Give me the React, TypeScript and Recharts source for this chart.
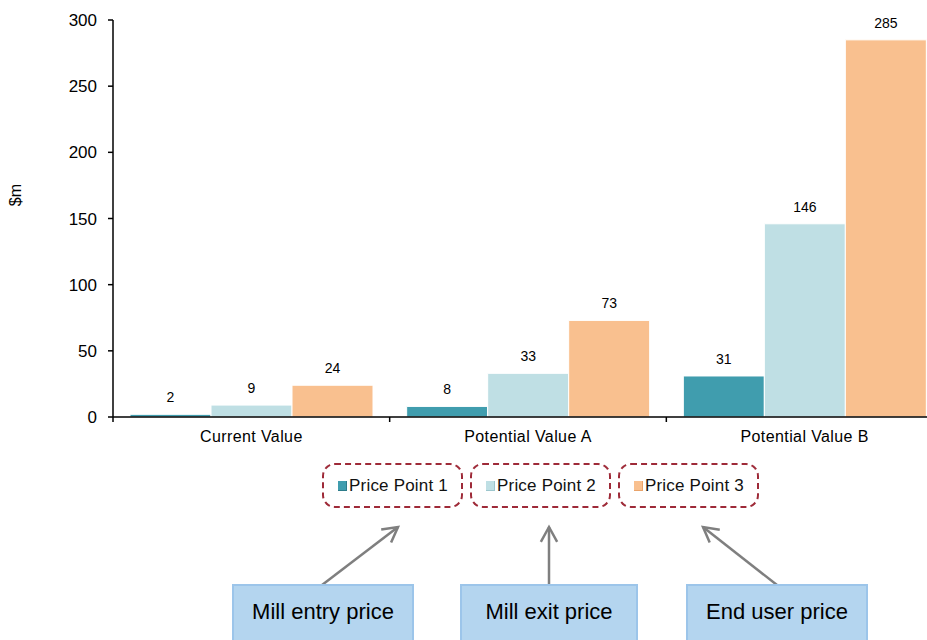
import React from 'react';
import { BarChart, Bar, XAxis, YAxis, Legend, LabelList } from 'recharts';

// value chain categories and the three price points ($m)
const categories = ['Current Value', 'Potential Value A', 'Potential Value B'];
const pricePoint1 = [2, 8, 31];
const pricePoint2 = [9, 33, 146];
const pricePoint3 = [24, 73, 285];
const yTicks = [0, 50, 100, 150, 200, 250, 300];
const seriesNames = ['Price Point 1', 'Price Point 2', 'Price Point 3'];
const calloutLabels = ['Mill entry price', 'Mill exit price', 'End user price'];

const COLORS = ['#409dae', '#bfdfe4', '#f9c08f'];
const ICON_EDGE = ['#2d7c8a', '#9cc6cd', '#e9a36a'];
const FONT = '"Liberation Sans", Arial, sans-serif';

const chartData = categories.map((name, i) => ({
    name,
    p1: pricePoint1[i],
    p2: pricePoint2[i],
    p3: pricePoint3[i],
}));

// category label plus boundary tick marks between the groups
const CategoryTick = (props: any) => {
    const { x, y, payload } = props;
    const band = props.bandSize ?? 276.67;
    const left = x - band / 2;
    return (
        <g>
            <line x1={left} x2={left} y1={y - 8} y2={y - 3} stroke="#000" strokeWidth={1.5} />
            <text x={x} y={y + 17} textAnchor="middle" fontSize={16} letterSpacing={0.4} fill="#000" fontFamily={FONT}>
                {payload.value}
            </text>
        </g>
    );
};

const LegendBoxes = (props: any) => {
    const { payload } = props;
    return (
        <div style={{ display: 'flex', gap: 7, fontFamily: FONT }}>
            {(payload || []).map((entry: any, i: number) => (
                <div
                    key={entry.value}
                    style={{
                        height: 41,
                        boxSizing: 'content-box',
                        border: '2.5px dashed #9e2a38',
                        borderRadius: 13,
                        display: 'flex',
                        alignItems: 'center',
                        padding: '0 13px 0 14px',
                        fontSize: 17,
                        color: '#111',
                    }}
                >
                    <span
                        style={{
                            display: 'inline-block',
                            width: 8,
                            height: 9,
                            background: entry.color,
                            borderRight: `1.5px solid ${ICON_EDGE[i]}`,
                            borderBottom: `1.5px solid ${ICON_EDGE[i]}`,
                            marginRight: 2,
                        }}
                    />
                    <span style={{ letterSpacing: 0.2 }}>{entry.value}</span>
                </div>
            ))}
        </div>
    );
};

// open arrowhead pointing at (x2, y2)
const Arrow = ({ x1, y1, x2, y2 }: { x1: number; y1: number; x2: number; y2: number }) => {
    const ang = Math.atan2(y2 - y1, x2 - x1);
    const len = 17;
    const spread = 0.5;
    const a1 = [x2 - len * Math.cos(ang - spread), y2 - len * Math.sin(ang - spread)];
    const a2 = [x2 - len * Math.cos(ang + spread), y2 - len * Math.sin(ang + spread)];
    return (
        <g stroke="#7f7f7f" strokeWidth={2.5} fill="none">
            <line x1={x1} y1={y1} x2={x2} y2={y2} />
            <polyline points={`${a1[0]},${a1[1]} ${x2},${y2} ${a2[0]},${a2[1]}`} />
        </g>
    );
};

const callouts = [
    { left: 232, width: 182, from: [322, 585], to: [398, 527] },
    { left: 460, width: 178, from: [549, 585], to: [549, 527] },
    { left: 686, width: 182, from: [777, 585], to: [703, 527] },
];

export default function App() {
    return (
        <div style={{ position: 'absolute', left: 0, top: 0, width: 927, height: 640, overflow: 'hidden', background: '#fff', fontFamily: FONT }}>
            <BarChart
                width={945}
                height={640}
                data={chartData}
                margin={{ top: 20, right: 2, left: 0, bottom: 183 }}
                barCategoryGap={17}
                barGap={0}
            >
                <XAxis
                    dataKey="name"
                    height={40}
                    tickLine={false}
                    axisLine={{ stroke: '#000', strokeWidth: 1.5 }}
                    tick={<CategoryTick bandSize={830 / 3} />}
                    interval={0}
                />
                <YAxis
                    width={113}
                    domain={[0, 300]}
                    ticks={yTicks}
                    tickSize={5}
                    tickMargin={11}
                    axisLine={{ stroke: '#000', strokeWidth: 1.5 }}
                    tickLine={{ stroke: '#000', strokeWidth: 1.5 }}
                    tick={{ fontSize: 17, fill: '#000', fontFamily: FONT }}
                    label={{
                        content: () => (
                            <text x={21} y={195} transform="rotate(-90 21 195)" textAnchor="middle" fontSize={16} fill="#000" fontFamily={FONT}>
                                $m
                            </text>
                        ),
                    }}
                />
                <Legend
                    verticalAlign="middle"
                    align="center"
                    layout="horizontal"
                    content={<LegendBoxes />}
                    wrapperStyle={{ top: 463, left: 322, width: 'auto' }}
                />
                {['p1', 'p2', 'p3'].map((key, i) => (
                    <Bar key={key} dataKey={key} name={seriesNames[i]} fill={COLORS[i]} stroke="#fff" strokeWidth={1} isAnimationActive={false}>
                        <LabelList dataKey={key} position="top" offset={12} fontSize={14} fill="#000" fontFamily={FONT} />
                    </Bar>
                ))}
            </BarChart>
            <svg width={927} height={640} style={{ position: 'absolute', left: 0, top: 0, pointerEvents: 'none' }}>
                {callouts.map((c, i) => (
                    <Arrow key={i} x1={c.from[0]} y1={c.from[1]} x2={c.to[0]} y2={c.to[1]} />
                ))}
            </svg>
            {callouts.map((c, i) => (
                <div
                    key={calloutLabels[i]}
                    style={{
                        position: 'absolute',
                        left: c.left,
                        top: 584,
                        width: c.width,
                        height: 70,
                        boxSizing: 'border-box',
                        background: '#b4d5ef',
                        border: '2px solid #9cc5ea',
                        display: 'flex',
                        justifyContent: 'center',
                        paddingTop: 13,
                        fontSize: 22,
                        color: '#000',
                    }}
                >
                    {calloutLabels[i]}
                </div>
            ))}
        </div>
    );
}
